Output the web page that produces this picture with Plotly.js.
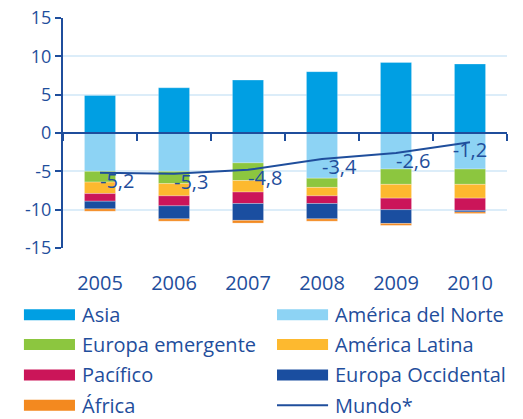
<!DOCTYPE html>
<html>
<head>
<meta charset="utf-8">
<script src="https://cdn.plot.ly/plotly-3.0.1.min.js"></script>
<style>html,body{margin:0;padding:0;background:#fff;}#chart{width:523px;height:419px;}</style>
</head>
<body>
<div id="chart"></div>
<script>
const years = ['2005','2006','2007','2008','2009','2010'];
const asia = [4.9, 5.9, 6.9, 8.0, 9.2, 9.0];
const americaNorte = [-5.0, -5.0, -3.9, -5.9, -4.7, -4.7];
const europaEmergente = [-1.4, -1.6, -2.3, -1.2, -2.0, -2.0];
const americaLatina = [-1.5, -1.6, -1.5, -1.1, -1.8, -1.8];
const pacifico = [-1.0, -1.3, -1.5, -1.0, -1.5, -1.6];
const europaOccidental = [-1.0, -1.7, -2.2, -2.0, -1.8, -0.2];
const africa = [-0.3, -0.3, -0.35, -0.3, -0.25, -0.2];
const mundo = [-5.2, -5.3, -4.8, -3.4, -2.6, -1.2];
const mundoLabels = ['-5,2','-5,3','-4,8','-3,4','-2,6','-1,2'];
const yTicks = [-15,-10,-5,0,5,10,15];

const seriesNames = ['Asia','América del Norte','Europa emergente','América Latina','Pacífico','Europa Occidental','África'];
const seriesData = [asia, americaNorte, europaEmergente, americaLatina, pacifico, europaOccidental, africa];
const seriesColors = ['#009fe3','#8dd3f4','#8cc63f','#fdb92f','#cb1559','#1a4ea0','#f3891f'];
const lineName = 'Mundo*';

const textColor = '#1f4e9c';
const font = 'Open Sans, sans-serif';

const traces = seriesNames.map((n,i)=>({
  type:'bar', name:n, x:years, y:seriesData[i],
  marker:{color:seriesColors[i], line:{color:'rgba(255,255,255,0.5)', width:0.5}},
  width:0.42, showlegend:false, hoverinfo:'skip'
}));
traces.push({
  type:'scatter', mode:'lines+text', name:lineName, x:years, y:mundo,
  line:{color:textColor, width:2},
  text:mundoLabels,
  textposition:['bottom right','bottom right','bottom right','bottom right','bottom right','bottom center'],
  textfont:{family:font, size:20, color:textColor},
  showlegend:false, hoverinfo:'skip'
});
// helper trace for the zero axis
traces.push({type:'scatter', x:years, y:years.map(()=>null), xaxis:'x2', yaxis:'y', showlegend:false, hoverinfo:'skip'});

// custom legend
const shapes = [];
const annotations = [];
const legendItems = seriesNames.map((n,i)=>({name:n, color:seriesColors[i], kind:'bar'}));
legendItems.push({name:lineName, color:textColor, kind:'line'});
const rowY = [-0.29, -0.42, -0.552, -0.684];
const colX = [[-0.088, 0.027, 0.038],[0.482, 0.597, 0.608]];
legendItems.forEach((it,k)=>{
  const r = Math.floor(k/2), c = k%2;
  const y = rowY[r];
  const [x0,x1,tx] = colX[c];
  if(it.kind==='bar'){
    shapes.push({type:'rect', xref:'paper', yref:'paper', x0:x0, x1:x1, y0:y-0.024, y1:y+0.024, fillcolor:it.color, line:{width:0}});
  } else {
    shapes.push({type:'line', xref:'paper', yref:'paper', x0:x0, x1:x1, y0:y, y1:y, line:{color:it.color, width:2}});
  }
  annotations.push({xref:'paper', yref:'paper', x:tx, y:y, text:it.name, showarrow:false, xanchor:'left', yanchor:'middle',
    font:{family:font, size:20, color:textColor}});
});

const layout = {
  width:523, height:419,
  margin:{l:63, r:16, t:18, b:171},
  paper_bgcolor:'#fff', plot_bgcolor:'#fff',
  barmode:'relative', bargap:0.58,
  showlegend:false,
  xaxis:{type:'category', categoryarray:years, range:[-0.5,5.5], showgrid:false, zeroline:false, showline:false,
    ticks:'', ticklabelstandoff:21, tickfont:{family:font, size:20, color:textColor}},
  xaxis2:{type:'category', categoryarray:years, overlaying:'x', anchor:'free', position:0.5, side:'bottom', range:[-0.5,5.5],
    showgrid:false, zeroline:false, showline:true, linecolor:textColor, linewidth:2,
    ticks:'outside', tickson:'boundaries', ticklen:7, tickwidth:2, tickcolor:textColor, showticklabels:false},
  yaxis:{range:[-15,15], tickvals:yTicks, ticktext:yTicks.map(String), showgrid:true, gridcolor:'#dcedf9', gridwidth:2,
    zeroline:false, showline:true, linecolor:textColor, linewidth:2, ticks:'outside', ticklen:6, tickwidth:2, tickcolor:textColor,
    tickfont:{family:font, size:18, color:textColor}},
  shapes:shapes, annotations:annotations
};
Plotly.newPlot('chart', traces, layout, {staticPlot:true, displayModeBar:false});
</script>
</body>
</html>
